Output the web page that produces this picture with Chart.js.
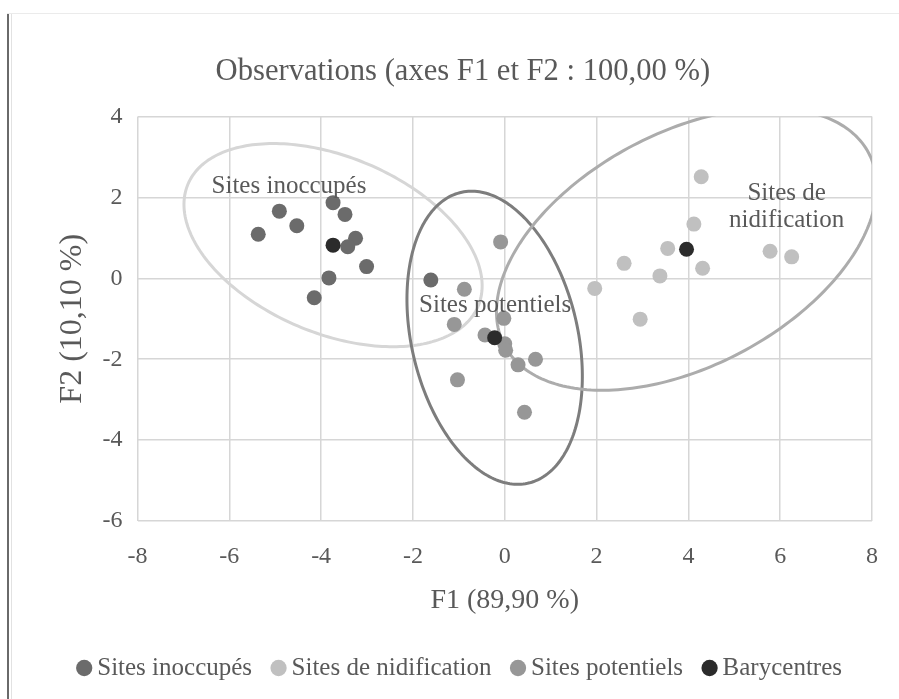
<!DOCTYPE html>
<html>
<head>
<meta charset="utf-8">
<script src="https://cdn.jsdelivr.net/npm/chart.js@4.4.1/dist/chart.umd.min.js"></script>
<style>
html,body{margin:0;padding:0;background:#fff;}
#wrap{position:relative;width:899px;height:699px;overflow:hidden;}
#c{position:absolute;left:0;top:0;}
#fl{position:absolute;left:7px;top:13px;width:2px;height:686px;background:#6a6a6a;}
#fl2{position:absolute;left:11px;top:14px;width:1px;height:685px;background:#e2e2e2;}
#ft{position:absolute;left:7px;top:13px;width:892px;height:1px;background:#ebebeb;}
</style>
</head>
<body>
<div id="wrap">
<canvas id="c" width="899" height="699"></canvas>
<div id="fl"></div><div id="fl2"></div><div id="ft"></div>
</div>
<script>
// ---- Data ----
const seriesNames = ["Sites inoccupés", "Sites de nidification", "Sites potentiels", "Barycentres"];

const inoccupesX = [-4.91, -4.53, -5.37, -3.74, -3.48, -3.25, -3.42, -3.01, -3.83, -4.15, -1.61];
const inoccupesY = [ 1.66,  1.30,  1.09,  1.87,  1.58,  0.99,  0.78,  0.29,  0.01, -0.48, -0.04];

const nidificationX = [4.28, 4.12, 3.55, 2.60, 4.31, 3.38, 1.96, 2.95, 5.78, 6.25];
const nidificationY = [2.51, 1.34, 0.74, 0.37, 0.25, 0.06, -0.25, -1.01, 0.67, 0.53];

const potentielsX = [-0.09, -0.88, -1.10, -0.02, -0.43, 0.00, 0.02, 0.67, 0.29, -1.03, 0.43];
const potentielsY = [ 0.90, -0.27, -1.14, -0.99, -1.40, -1.62, -1.78, -2.00, -2.14, -2.51, -3.31];

const barycentresX = [-3.74, -0.22, 3.96];
const barycentresY = [ 0.82, -1.47, 0.72];

// confidence ellipses (data units): centre, semi-axes, orientation in degrees
const ellipseGroups = ["Sites inoccupés", "Sites potentiels", "Sites de nidification"];
const ellipseCX = [-3.74, -0.22, 3.96];
const ellipseCY = [ 0.82, -1.47, 0.72];
const ellipseA  = [ 3.51,  3.67, 4.64];
const ellipseB  = [ 2.13,  1.82, 2.79];
const ellipseAngle = [-28.5, 100.5, 34.4];

// group labels inside the plot
const labelTexts = ["Sites inoccupés", "Sites potentiels", "Sites de", "nidification"];
const labelX = [-4.70, -0.21, 6.14, 6.14];
const labelY = [ 2.26, -0.66, 2.11, 1.44];

const xTicks = [-8, -6, -4, -2, 0, 2, 4, 6, 8];
const yTicks = [-6, -4, -2, 0, 2, 4];

// ---- styling ----
const SERIF = "'Liberation Serif', 'Times New Roman', serif";
const TXT = "#595959";
const pointColors = ["#6b6b6b", "#c0c0c0", "#979797", "#2b2b2b"];
const ellipseColors = ["#d6d6d6", "#7d7d7d", "#acacac"];

function toPoints(xs, ys) { return xs.map((x, i) => ({x: x, y: ys[i]})); }

const ellipsePlugin = {
  id: 'ellipses',
  beforeDatasetsDraw(chart) {
    const {ctx, chartArea, scales} = chart;
    const xs = scales.x, ys = scales.y;
    ctx.save();
    ctx.beginPath();
    ctx.rect(chartArea.left, chartArea.top, chartArea.right - chartArea.left, chartArea.bottom - chartArea.top);
    ctx.clip();
    for (let k = 0; k < ellipseCX.length; k++) {
      const th = ellipseAngle[k] * Math.PI / 180;
      const c = Math.cos(th), s = Math.sin(th);
      ctx.beginPath();
      const N = 240;
      for (let i = 0; i <= N; i++) {
        const p = 2 * Math.PI * i / N;
        const u = ellipseA[k] * Math.cos(p), v = ellipseB[k] * Math.sin(p);
        const dx = ellipseCX[k] + u * c - v * s;
        const dy = ellipseCY[k] + u * s + v * c;
        const px = xs.getPixelForValue(dx), py = ys.getPixelForValue(dy);
        if (i === 0) ctx.moveTo(px, py); else ctx.lineTo(px, py);
      }
      ctx.closePath();
      ctx.strokeStyle = ellipseColors[k];
      ctx.lineWidth = 3;
      ctx.stroke();
    }
    ctx.restore();
  }
};

const labelPlugin = {
  id: 'groupLabels',
  afterDatasetsDraw(chart) {
    const {ctx, scales} = chart;
    ctx.save();
    ctx.font = "25px " + SERIF;
    ctx.fillStyle = TXT;
    ctx.textAlign = 'center';
    ctx.textBaseline = 'middle';
    for (let i = 0; i < labelTexts.length; i++) {
      ctx.fillText(labelTexts[i], scales.x.getPixelForValue(labelX[i]), scales.y.getPixelForValue(labelY[i]));
    }
    ctx.restore();
  }
};

const allX = [inoccupesX, nidificationX, potentielsX, barycentresX];
const allY = [inoccupesY, nidificationY, potentielsY, barycentresY];

const datasets = seriesNames.map((name, i) => ({
  label: name,
  data: toPoints(allX[i], allY[i]),
  backgroundColor: pointColors[i],
  borderColor: pointColors[i],
  borderWidth: 0,
  pointRadius: 7.5,
  pointHoverRadius: 7.5,
  pointStyle: 'circle',
  order: i === 3 ? 0 : 1
}));

new Chart(document.getElementById('c'), {
  type: 'scatter',
  data: { datasets: datasets },
  plugins: [ellipsePlugin, labelPlugin],
  options: {
    responsive: false,
    animation: false,
    layout: { padding: { left: 50, right: 23.3, top: 0, bottom: 8.5 } },
    plugins: {
      tooltip: { enabled: false },
      title: {
        display: true,
        text: "Observations (axes F1 et F2 : 100,00 %)",
        color: TXT,
        font: { family: SERIF, size: 30.6, weight: 'normal' },
        padding: { top: 53.5, bottom: 26.3 }
      },
      legend: {
        position: 'bottom',
        labels: {
          usePointStyle: true,
          pointStyle: 'circle',
          boxWidth: 1,
          boxHeight: 11.5,
          padding: 26,
          color: TXT,
          font: { family: SERIF, size: 25 },
          sort: (a, b) => a.datasetIndex - b.datasetIndex
        }
      }
    },
    scales: {
      x: {
        type: 'linear',
        min: xTicks[0], max: xTicks[xTicks.length - 1],
        afterBuildTicks(scale) { scale.ticks = xTicks.map(v => ({value: v})); },
        afterFit(scale) { scale.height = 108.5; },
        ticks: { color: TXT, font: { family: SERIF, size: 24 }, padding: 21, maxRotation: 0 },
        grid: { color: '#d6d6d6', lineWidth: 1.5, drawTicks: false },
        border: { display: false },
        title: {
          display: true, text: "F1 (89,90 %)", color: TXT,
          font: { family: SERIF, size: 28 },
          padding: { top: 0, bottom: 12.5 }
        }
      },
      y: {
        type: 'linear',
        min: yTicks[0], max: yTicks[yTicks.length - 1],
        afterBuildTicks(scale) { scale.ticks = yTicks.map(v => ({value: v})); },
        afterFit(scale) { scale.width = 87.5; },
        ticks: { color: TXT, font: { family: SERIF, size: 24 }, padding: 15 },
        grid: { color: '#d6d6d6', lineWidth: 1.5, drawTicks: false },
        border: { display: false },
        title: {
          display: true, text: "F2 (10,10 %)", color: TXT,
          font: { family: SERIF, size: 32 },
          padding: { top: 3, bottom: 0 }
        }
      }
    }
  }
});
</script>
</body>
</html>
